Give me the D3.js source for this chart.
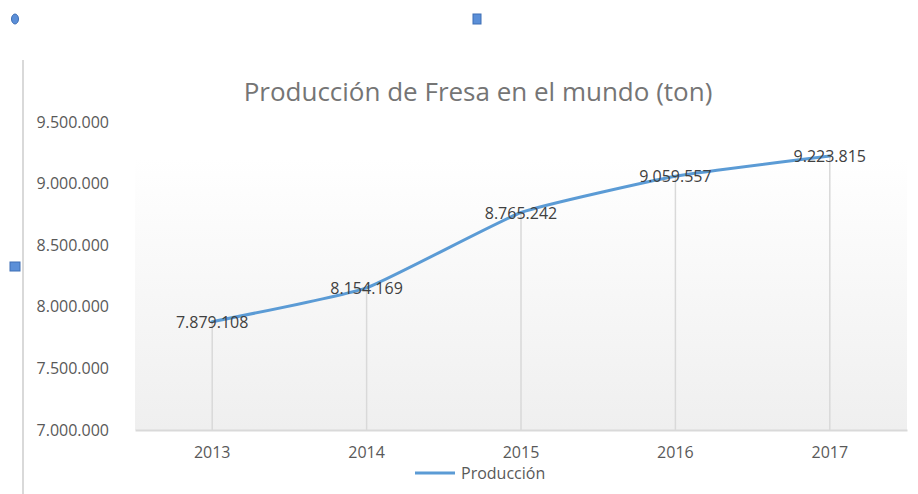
<!DOCTYPE html>
<html>
<head>
<meta charset="utf-8">
<script src="https://cdn.jsdelivr.net/npm/d3@7"></script>
<style>
  body { margin: 0; background: #fff; }
  svg { display: block; font-family: "Open Sans", "Noto Sans", sans-serif; }
</style>
</head>
<body>
<svg id="chart" width="918" height="494"></svg>
<script>
// data
const years = ['2013', '2014', '2015', '2016', '2017'];
const produccion = [7879108, 8154169, 8765242, 9059557, 9223815];
const yTicks = [7000000, 7500000, 8000000, 8500000, 9000000, 9500000];

const es = d3.formatLocale({ decimal: ',', thousands: '.', grouping: [3], currency: ['', ''] });
const fmt = es.format(',d');

const svg = d3.select('#chart');
const plot = { left: 135, right: 907, top: 158, bottom: 430 };

// gradient for the plot area
const defs = svg.append('defs');
const grad = defs.append('linearGradient')
  .attr('id', 'bg').attr('x1', 0).attr('y1', 0).attr('x2', 0).attr('y2', 1);
grad.append('stop').attr('offset', '0%').attr('stop-color', '#ffffff');
grad.append('stop').attr('offset', '100%').attr('stop-color', '#efefef');

// frame line on the left + selection handles
svg.append('line')
  .attr('x1', 23).attr('x2', 23).attr('y1', 60).attr('y2', 494)
  .attr('stroke', '#d9d9d9').attr('stroke-width', 2);
svg.append('ellipse')
  .attr('cx', 15).attr('cy', 19).attr('rx', 3.5).attr('ry', 5)
  .attr('fill', '#5b8fd8').attr('stroke', '#3f6fb5');
svg.append('rect')
  .attr('x', 473).attr('y', 14).attr('width', 8).attr('height', 10)
  .attr('fill', '#5b8fd8').attr('stroke', '#3f6fb5');
svg.append('rect')
  .attr('x', 10).attr('y', 262).attr('width', 10).attr('height', 9)
  .attr('fill', '#5b8fd8').attr('stroke', '#3f6fb5');

const x = d3.scaleBand().domain(years).range([plot.left, plot.right]);
const y = d3.scaleLinear().domain([7000000, 9500000]).range([430, 122]);

svg.append('rect')
  .attr('x', plot.left).attr('y', plot.top)
  .attr('width', plot.right - plot.left).attr('height', plot.bottom - plot.top)
  .attr('fill', 'url(#bg)');

// title
svg.append('text')
  .attr('x', 478).attr('y', 101)
  .attr('text-anchor', 'middle')
  .attr('font-size', 26).attr('fill', '#757575')
  .text('Producción de Fresa en el mundo (ton)');

// y axis labels
const yAxis = svg.append('g')
  .attr('transform', `translate(${109},0)`)
  .call(d3.axisLeft(y).tickValues(yTicks).tickFormat(fmt).tickSize(0).tickPadding(0));
yAxis.select('.domain').remove();
yAxis.selectAll('text').attr('font-size', 16).attr('fill', '#595959')
  .attr('font-family', '"Open Sans", "Noto Sans", sans-serif');

// x axis
const xAxis = svg.append('g')
  .attr('transform', `translate(0,${plot.bottom})`)
  .call(d3.axisBottom(x).tickSize(0).tickPadding(17));
xAxis.select('.domain').attr('stroke', '#d9d9d9').attr('stroke-width', 2);
xAxis.selectAll('text').attr('font-size', 16).attr('fill', '#595959')
  .attr('font-family', '"Open Sans", "Noto Sans", sans-serif');

const cx = d => x(d) + x.bandwidth() / 2;

// drop lines
svg.selectAll('.drop')
  .data(years)
  .enter().append('line')
  .attr('class', 'drop')
  .attr('x1', d => cx(d)).attr('x2', d => cx(d))
  .attr('y1', (d, i) => y(produccion[i])).attr('y2', plot.bottom)
  .attr('stroke', '#d9d9d9').attr('stroke-width', 1.5);

// line
const line = d3.line()
  .x((d, i) => cx(years[i]))
  .y(d => y(d))
  .curve(d3.curveCardinal.tension(0.6));
svg.append('path')
  .datum(produccion)
  .attr('d', line)
  .attr('fill', 'none')
  .attr('stroke', '#5b9bd5')
  .attr('stroke-width', 3)
  .attr('stroke-linecap', 'round');

// data labels
svg.selectAll('.lbl')
  .data(produccion)
  .enter().append('text')
  .attr('class', 'lbl')
  .attr('x', (d, i) => cx(years[i]))
  .attr('y', d => y(d) + 6)
  .attr('text-anchor', 'middle')
  .attr('font-size', 16).attr('fill', '#404040')
  .text(d => fmt(d));

// legend
const lg = svg.append('g').attr('transform', 'translate(415,473)');
lg.append('line').attr('x1', 0).attr('x2', 40).attr('y1', 0).attr('y2', 0)
  .attr('stroke', '#5b9bd5').attr('stroke-width', 3);
lg.append('text').attr('x', 46).attr('y', 6)
  .attr('font-size', 16).attr('fill', '#595959')
  .text('Producción');
</script>
</body>
</html>
